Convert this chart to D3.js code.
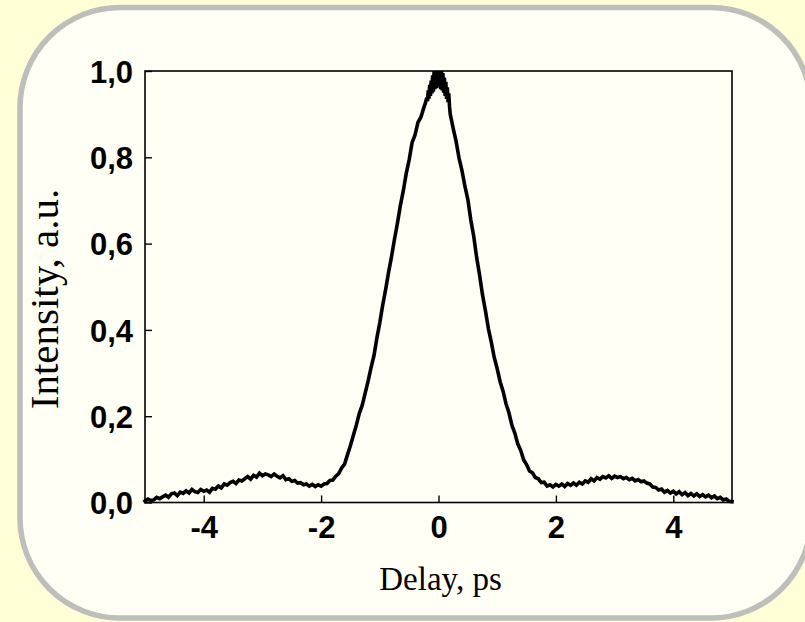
<!DOCTYPE html>
<html>
<head>
<meta charset="utf-8">
<script src="https://cdn.jsdelivr.net/npm/d3@7"></script>
<style>
  html, body { margin: 0; padding: 0; background: #FFFED6; }
  svg { display: block; }
</style>
</head>
<body>
<svg id="chart" width="805" height="622"></svg>
<script>
// ---- data ----
const delays = [
  -5.00,-4.95,-4.90,-4.85,-4.80,-4.75,-4.70,-4.65,-4.60,-4.55,-4.50,-4.45,-4.40,-4.35,-4.30,-4.25,-4.20,-4.15,-4.10,-4.05,
  -4.00,-3.95,-3.90,-3.85,-3.80,-3.75,-3.70,-3.65,-3.60,-3.55,-3.50,-3.45,-3.40,-3.35,-3.30,-3.25,-3.20,-3.15,-3.10,-3.05,
  -3.00,-2.95,-2.90,-2.85,-2.80,-2.75,-2.70,-2.65,-2.60,-2.55,-2.50,-2.45,-2.40,-2.35,-2.30,-2.25,-2.20,-2.15,-2.10,-2.05,
  -2.00,-1.95,-1.90,-1.85,-1.80,-1.75,-1.70,-1.65,-1.60,-1.55,-1.50,-1.45,-1.40,-1.35,-1.30,-1.25,-1.20,-1.15,-1.10,-1.05,
  -1.00,-0.95,-0.90,-0.85,-0.80,-0.75,-0.70,-0.65,-0.60,-0.55,-0.50,-0.45,-0.40,-0.35,-0.30,-0.25,
  -0.225,-0.20,-0.1875,-0.175,-0.1625,-0.15,-0.1375,-0.125,-0.1125,-0.10,-0.0875,-0.075,-0.0625,-0.05,-0.0375,-0.025,-0.0125,
  0.00,0.0125,0.025,0.0375,0.05,0.0625,0.075,0.0875,0.10,0.1125,0.125,0.1375,0.15,0.1625,0.175,0.1875,0.20,
  0.25,0.30,0.35,0.40,0.45,0.50,0.55,0.60,0.65,0.70,0.75,0.80,0.85,0.90,0.95,
  1.00,1.05,1.10,1.15,1.20,1.25,1.30,1.35,1.40,1.45,1.50,1.55,1.60,1.65,1.70,1.75,1.80,1.85,1.90,1.95,
  2.00,2.05,2.10,2.15,2.20,2.25,2.30,2.35,2.40,2.45,2.50,2.55,2.60,2.65,2.70,2.75,2.80,2.85,2.90,2.95,
  3.00,3.05,3.10,3.15,3.20,3.25,3.30,3.35,3.40,3.45,3.50,3.55,3.60,3.65,3.70,3.75,3.80,3.85,3.90,3.95,
  4.00,4.05,4.10,4.15,4.20,4.25,4.30,4.35,4.40,4.45,4.50,4.55,4.60,4.65,4.70,4.75,4.80,4.85,4.90,4.95,5.00
];
const intensity = [
  0.003,0.008,0.005,0.006,0.012,0.009,0.013,0.017,0.012,0.020,0.022,0.016,0.024,0.021,0.027,0.022,0.030,0.025,0.023,0.030,
  0.026,0.029,0.024,0.033,0.031,0.038,0.034,0.043,0.040,0.046,0.049,0.044,0.052,0.050,0.055,0.060,0.054,0.063,0.059,0.068,
  0.062,0.066,0.064,0.060,0.066,0.061,0.057,0.062,0.053,0.055,0.049,0.051,0.045,0.046,0.041,0.043,0.038,0.042,0.037,0.041,
  0.038,0.043,0.044,0.051,0.052,0.061,0.067,0.080,0.089,0.111,0.132,0.156,0.179,0.206,0.225,0.253,0.281,0.312,0.340,0.381,
  0.417,0.458,0.494,0.534,0.570,0.610,0.647,0.688,0.722,0.762,0.794,0.834,0.852,0.881,0.893,0.915,
  0.925,0.938,0.930,0.955,0.936,0.968,0.942,0.978,0.948,0.990,0.952,1.000,0.958,0.995,0.960,1.000,0.962,
  1.000,0.965,0.998,0.958,1.000,0.955,0.995,0.950,0.985,0.942,0.975,0.935,0.962,0.928,0.948,0.918,0.900,
  0.867,0.837,0.798,0.769,0.733,0.702,0.655,0.617,0.568,0.527,0.481,0.444,0.403,0.371,0.336,
  0.310,0.280,0.258,0.229,0.208,0.179,0.161,0.136,0.121,0.099,0.088,0.073,0.069,0.058,0.055,0.046,0.047,0.038,0.041,0.036,
  0.042,0.038,0.043,0.037,0.044,0.040,0.045,0.040,0.047,0.043,0.050,0.047,0.055,0.050,0.058,0.054,0.060,0.057,0.062,0.056,
  0.061,0.058,0.060,0.055,0.058,0.053,0.056,0.050,0.053,0.048,0.050,0.045,0.043,0.036,0.035,0.029,0.031,0.024,0.028,0.022,
  0.026,0.020,0.025,0.018,0.023,0.016,0.021,0.015,0.020,0.014,0.018,0.013,0.017,0.011,0.015,0.009,0.012,0.006,0.008,0.003,0.002
];
const xTicks = [-4, -2, 0, 2, 4];
const yTicks = [0, 0.2, 0.4, 0.6, 0.8, 1.0];
const xTitle = "Delay, ps";
const yTitle = "Intensity, a.u.";

// ---- drawing ----
const svg = d3.select("#chart");

// background panel
svg.append("rect").attr("x", 0).attr("y", 0).attr("width", 805).attr("height", 622)
  .attr("fill", "#FFFED6");
svg.append("rect")
  .attr("x", 20).attr("y", 7.5).attr("width", 791).attr("height", 610.5)
  .attr("rx", 100).attr("ry", 100)
  .attr("fill", "#FFFFF6").attr("stroke", "#BEBEBA").attr("stroke-width", 5.5);

const L = 145, R = 732, T = 71, B = 502.5;
const x = d3.scaleLinear().domain([-5, 5]).range([L, R]);
const y = d3.scaleLinear().domain([0, 1]).range([B, T]);

const fmtY = d => d3.format(".1f")(d).replace(".", ",");
const fmtX = d => String(d);

// plot frame
svg.append("rect").attr("x", L).attr("y", T).attr("width", R - L).attr("height", B - T)
  .attr("fill", "none").attr("stroke", "#000").attr("stroke-width", 1.6);

// axes (inward ticks)
const xAxis = d3.axisBottom(x).tickValues(xTicks).tickSizeInner(-7).tickSizeOuter(0)
  .tickPadding(13).tickFormat(fmtX);
const gx = svg.append("g").attr("transform", `translate(0,${B})`).call(xAxis);
const yAxis = d3.axisLeft(y).tickValues(yTicks).tickSizeInner(-7).tickSizeOuter(0)
  .tickPadding(12).tickFormat(fmtY);
const gy = svg.append("g").attr("transform", `translate(${L},0)`).call(yAxis);

[gx, gy].forEach(g => {
  g.select(".domain").remove();
  g.selectAll(".tick line").attr("stroke", "#000").attr("stroke-width", 1.4);
  g.selectAll(".tick text")
    .attr("fill", "#000")
    .style("font-family", "'Liberation Sans', Arial, sans-serif")
    .style("font-weight", "bold")
    .style("font-size", "31px");
});
gy.selectAll(".tick text").attr("dy", "0.36em");

// curve
const pts = delays.map((d, i) => [d, intensity[i]]);
svg.append("path")
  .datum(pts)
  .attr("fill", "none")
  .attr("stroke", "#000")
  .attr("stroke-width", 3.6)
  .attr("stroke-linejoin", "miter")
  .attr("stroke-linecap", "square")
  .attr("d", d3.line().x(d => x(d[0])).y(d => y(d[1])));

// titles
svg.append("text")
  .attr("x", (L + R) / 2 + 2).attr("y", 590)
  .attr("text-anchor", "middle")
  .style("font-family", "'Liberation Serif', 'Times New Roman', serif")
  .style("font-size", "33px")
  .attr("fill", "#000")
  .text(xTitle);
svg.append("text")
  .attr("transform", `translate(58,299) rotate(-90)`)
  .attr("text-anchor", "middle")
  .style("font-family", "'Liberation Serif', 'Times New Roman', serif")
  .style("font-size", "41px")
  .attr("fill", "#000")
  .text(yTitle);
</script>
</body>
</html>
